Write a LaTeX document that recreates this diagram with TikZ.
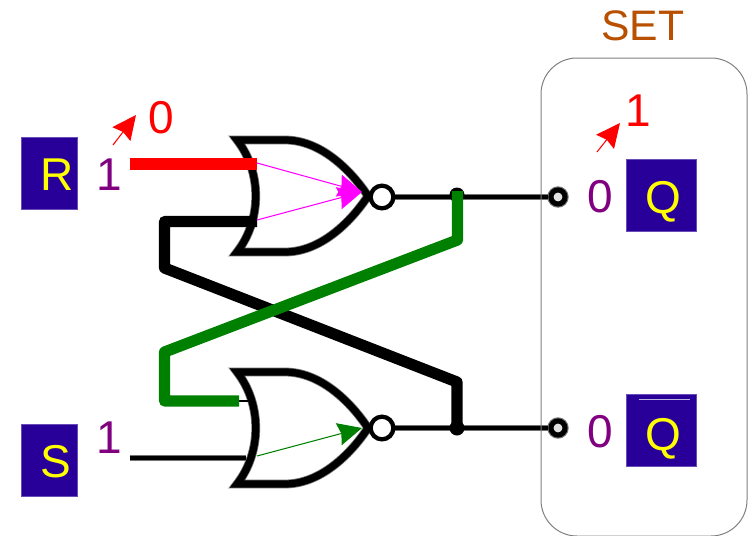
\documentclass[tikz,border=0pt]{standalone}
\usepackage{fontspec}
\setmainfont{Liberation Sans}
\usetikzlibrary{arrows.meta}
\definecolor{boxblue}{HTML}{280099}
\definecolor{labpurple}{HTML}{800080}
\definecolor{setbrown}{HTML}{B85000}
\definecolor{wiregreen}{HTML}{008000}
\definecolor{flowpink}{HTML}{FF00FF}
\definecolor{pureyellow}{HTML}{FFFF00}
\definecolor{purered}{HTML}{FF0000}
\tikzset{
  x=0.75pt,y=-0.75pt,
  lab/.style={inner sep=0pt,anchor=base,font=\fontsize{34.5pt}{40pt}\selectfont},
  namebox/.style={fill=boxblue,draw=boxblue!70!white,line width=0.5pt,inner sep=0pt,minimum width=42pt,minimum height=54pt},
  gatebody/.style={draw=black,line width=5.4pt,miter limit=10},
  gatesoft/.style={draw=black!55,line width=6.6pt,miter limit=10},
  bubble/.style={circle,draw=black,fill=white,line width=3.2pt,minimum size=17pt,inner sep=0pt},
  term/.style={circle,draw=black,fill=white!88!black,line width=3.8pt,minimum size=10.5pt,inner sep=0pt},
  termsoft/.style={circle,draw=black!55,line width=4.5pt,minimum size=11.5pt,inner sep=0pt},
  softwire/.style={draw=black!55,line width=4.4pt},
  thinwire/.style={draw=black,line width=3.4pt},
  fatwire/.style={line width=8.4pt,line join=round},
  flow/.style={line width=0.8pt,-{Stealth[length=18pt,width=17pt,inset=2pt]}},
}
\newcommand{\gatepath}[1]{%
  (237,#1-56) -- (285,#1-56) .. controls (320,#1-56) and (350,#1-27) .. (368,#1)
  .. controls (350,#1+27) and (320,#1+56) .. (285,#1+56) -- (237,#1+56)
  .. controls (262,#1+24) and (262,#1-24) .. cycle}
\begin{document}
\begin{tikzpicture}
\useasboundingbox (0,0) rectangle (754,536);
% coordinates
\coordinate (rstart) at (130,164);
\coordinate (rend) at (257,164);
\coordinate (sstart) at (130,458);
\coordinate (send) at (246,458);
\coordinate (b1) at (257,221.5);
\coordinate (b2) at (164.5,221.5);
\coordinate (b3) at (164.5,268);
\coordinate (b4) at (457,382);
\coordinate (b5) at (457,428);
\coordinate (g1) at (457.5,191);
\coordinate (g2) at (457.5,240);
\coordinate (g3) at (164.5,352);
\coordinate (g4) at (164.5,401);
\coordinate (g5) at (239,401);
\coordinate (gstub) at (250,401);
\coordinate (d1) at (457,195);
\coordinate (atip1) at (362,192);
\coordinate (atip2) at (362,428);
\coordinate (m1) at (257,163);
\coordinate (m2) at (257,220);
\coordinate (m3) at (257,456);
\coordinate (ra1) at (113,145);
\coordinate (ra2) at (136,115);
\coordinate (rb1) at (597,152);
\coordinate (rb2) at (620,123);
% output elements
\node[termsoft] at (558,197) {};
\node[termsoft] at (558,428) {};
\node[term] (qt) at (558,197) {};
\node[term] (qbt) at (558,428) {};
% gates
\draw[gatesoft] \gatepath{196};
\draw[gatesoft] \gatepath{428};
\draw[gatebody] \gatepath{196};
\draw[gatebody] \gatepath{428};
\coordinate (bt) at (382,197);
\coordinate (bb) at (382,428);
% thin wires
\draw[softwire] (bt) -- (qt);
\draw[softwire] (bb) -- (qbt);
\draw[softwire] (sstart) -- (send);
\draw[thinwire] (bt) -- (qt);
\draw[thinwire] (bb) -- (qbt);
\draw[thinwire] (sstart) -- (send);
\draw[thinwire,line width=2pt] (g5) -- (gstub);
\node[bubble] (bubT) at (bt) {};
\node[bubble] (bubB) at (bb) {};
\fill[black] (d1) circle[radius=7.5];
\fill[black] (b5) circle[radius=7.5];
% fat wires
\draw[fatwire,draw=black] (b1) -- (b2) -- (b3) -- (b4) -- (b5);
\draw[fatwire,draw=wiregreen] (g1) -- (g2) -- (g3) -- (g4) -- (g5);
\draw[line width=9pt,draw=purered] (rstart) -- (rend);
% flow arrows
\draw[flow,color=flowpink] (m1) -- (atip1);
\draw[flow,color=flowpink] (m2) -- (atip1);
\draw[flow,color=wiregreen] (m3) -- (atip2);
\draw[flow,color=purered] (ra1) -- (ra2);
\draw[flow,color=purered] (rb1) -- (rb2);
% boxes
\node[namebox] (rbox) at (49,173) {};
\node[namebox] (sbox) at (49,460.5) {};
\node[namebox,minimum width=52.5pt] (qbox) at (661,195.5) {};
\node[namebox,minimum width=52.5pt] (qbbox) at (661,430.5) {};
\draw[line width=0.75pt,draw=white!70!boxblue] (639,399) -- (690,399);
% container
\node[draw=black!50,line width=0.75pt,rounded corners=27pt,inner sep=0pt,minimum width=154.5pt,minimum height=358.5pt] (frame) at (644,297) {};
% labels
\node[lab,text=pureyellow] (rt) at (57,190) {R};
\node[lab,text=pureyellow] (st) at (56,477) {S};
\node[lab,text=pureyellow] (qtx) at (663,213) {Q};
\node[lab,text=pureyellow] (qbtx) at (663,450) {Q};
\node[lab,text=labpurple] (r1) at (109,190) {1};
\node[lab,text=labpurple] (s1) at (109,453) {1};
\node[lab,text=labpurple] (q0) at (600,212) {0};
\node[lab,text=labpurple] (qb0) at (600,447) {0};
\node[lab,text=purered] (r0) at (161,133) {0};
\node[lab,text=purered] (q1) at (638,126) {1};
\node[lab,text=setbrown,font=\fontsize{32pt}{36pt}\selectfont] (set) at (643,40) {SET};
\end{tikzpicture}
\end{document}
